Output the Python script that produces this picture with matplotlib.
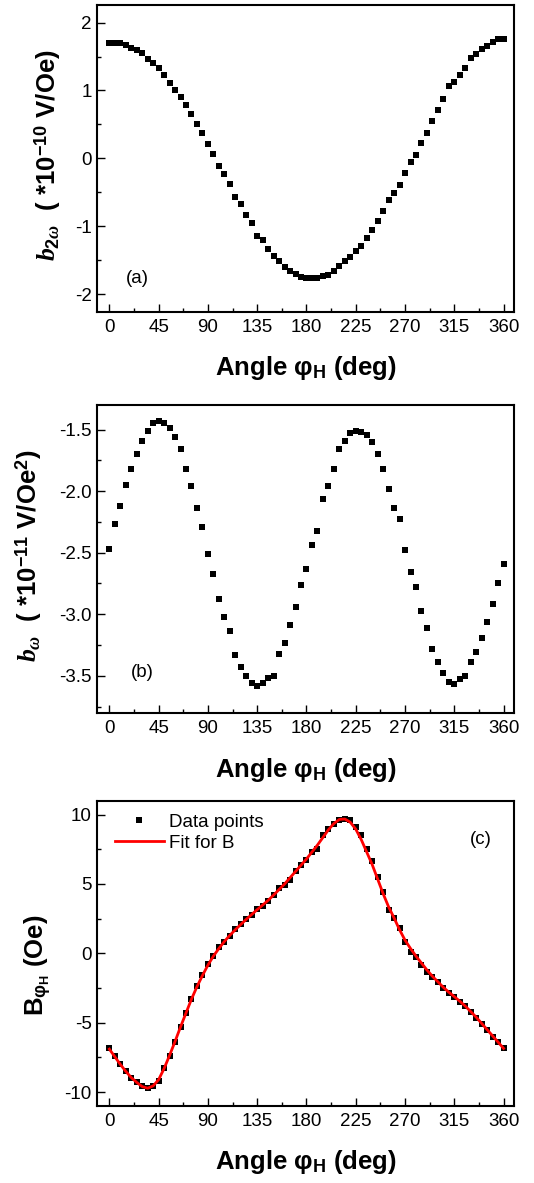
import matplotlib
matplotlib.use("Agg")
import matplotlib.pyplot as plt
from matplotlib.ticker import MultipleLocator

plt.rcParams['font.family'] = ['Liberation Sans', 'DejaVu Sans']
plt.rcParams['axes.unicode_minus'] = False
plt.rcParams['mathtext.fontset'] = 'custom'
plt.rcParams['mathtext.rm'] = 'Liberation Sans:bold'
plt.rcParams['mathtext.bf'] = 'Liberation Sans:bold'
plt.rcParams['mathtext.it'] = 'Liberation Serif:italic:bold'

# ---------------- data ----------------
angles = list(range(0, 361, 5))

b2w = [1.70, 1.70, 1.70, 1.67, 1.63, 1.59, 1.55, 1.47, 1.40, 1.33,
       1.23, 1.11, 1.01, 0.91, 0.79, 0.66, 0.50, 0.38, 0.21, 0.07,
       -0.11, -0.23, -0.38, -0.57, -0.67, -0.84, -0.96, -1.14, -1.21, -1.33,
       -1.44, -1.52, -1.60, -1.66, -1.71, -1.75, -1.77, -1.77, -1.76, -1.74,
       -1.72, -1.66, -1.58, -1.51, -1.45, -1.36, -1.29, -1.17, -1.06, -0.92,
       -0.78, -0.61, -0.51, -0.39, -0.21, -0.05, 0.05, 0.23, 0.37, 0.55,
       0.71, 0.87, 1.07, 1.13, 1.23, 1.33, 1.48, 1.54, 1.61, 1.66,
       1.71, 1.76, 1.76]

bw = [-2.47, -2.27, -2.12, -1.95, -1.82, -1.70, -1.59, -1.51, -1.45, -1.43,
      -1.45, -1.49, -1.56, -1.66, -1.82, -1.96, -2.14, -2.29, -2.51, -2.67,
      -2.88, -3.02, -3.14, -3.33, -3.43, -3.50, -3.56, -3.58, -3.56, -3.52,
      -3.50, -3.32, -3.23, -3.09, -2.94, -2.76, -2.63, -2.44, -2.32, -2.06,
      -1.96, -1.82, -1.66, -1.59, -1.53, -1.51, -1.52, -1.54, -1.60, -1.70,
      -1.82, -1.98, -2.14, -2.23, -2.48, -2.66, -2.78, -2.97, -3.11, -3.28,
      -3.39, -3.48, -3.55, -3.57, -3.53, -3.50, -3.39, -3.31, -3.19, -3.06,
      -2.92, -2.75, -2.59]

B_data = [-6.83, -7.39, -7.96, -8.51, -8.95, -9.30, -9.59, -9.71, -9.54, -9.23,
          -8.27, -7.39, -6.36, -5.28, -4.32, -3.31, -2.33, -1.56, -0.79, -0.17,
          0.43, 0.84, 1.27, 1.75, 2.09, 2.45, 2.76, 3.17, 3.41, 3.79,
          4.20, 4.68, 4.96, 5.32, 5.92, 6.36, 6.76, 7.31, 7.55, 8.51,
          8.99, 9.35, 9.64, 9.71, 9.59, 9.11, 8.51, 7.55, 6.67, 5.52,
          4.44, 3.12, 2.52, 1.85, 0.79, 0.12, -0.24, -0.84, -1.32, -1.68,
          -2.09, -2.52, -2.88, -3.12, -3.48, -3.79, -4.25, -4.65, -5.10, -5.55,
          -6.00, -6.40, -6.80]

B_fit = [-6.90, -7.45, -8.00, -8.50, -8.95, -9.30, -9.60, -9.72, -9.55, -9.10,
         -8.30, -7.35, -6.35, -5.30, -4.30, -3.30, -2.40, -1.60, -0.85, -0.20,
         0.35, 0.85, 1.30, 1.70, 2.08, 2.45, 2.80, 3.15, 3.48, 3.82,
         4.20, 4.60, 5.00, 5.45, 5.90, 6.35, 6.80, 7.30, 7.80, 8.35,
         8.90, 9.35, 9.65, 9.68, 9.45, 8.95, 8.20, 7.30, 6.40, 5.35,
         4.30, 3.35, 2.55, 1.70, 0.95, 0.35, -0.20, -0.70, -1.20, -1.65,
         -2.05, -2.45, -2.80, -3.12, -3.45, -3.80, -4.20, -4.60, -5.05, -5.50,
         -5.95, -6.40, -6.85]

xticks = [0, 45, 90, 135, 180, 225, 270, 315, 360]

# ---------------- figure ----------------
W, H = 534, 1183
fig = plt.figure(figsize=(W / 100, H / 100), dpi=100)

def box(l, t, r, b):
    return [l / W, 1 - b / H, (r - l) / W, (b - t) / H]

axa = fig.add_axes(box(97.3, 5, 514, 311.7))
axb = fig.add_axes(box(97.3, 405, 514, 712.7))
axc = fig.add_axes(box(97.3, 800.7, 514, 1106))

LABEL_FS = 18.5
TICK_FS = 13.5

def style(ax, ymaj, ymin, ylim):
    ax.set_xlim(-11, 369.5)
    ax.set_ylim(*ylim)
    ax.set_xticks(xticks)
    ax.xaxis.set_minor_locator(MultipleLocator(22.5))
    ax.yaxis.set_major_locator(MultipleLocator(ymaj))
    ax.yaxis.set_minor_locator(MultipleLocator(ymin))
    ax.tick_params(which='both', direction='in', top=False, right=False,
                   labelsize=TICK_FS, width=1.0)
    ax.tick_params(which='major', length=5.5)
    ax.tick_params(which='minor', length=2.8)
    ax.tick_params(axis='x', which='major', pad=5)
    ax.tick_params(axis='y', which='major', pad=4)
    for s in ax.spines.values():
        s.set_linewidth(1.5)
    ax.set_xlabel('Angle φ$_{\\mathrm{H}}$ (deg)', fontsize=LABEL_FS, fontweight='bold')
    ax.xaxis.set_label_coords(0.5, -0.185)
    ax.xaxis.label.set_va('center')

# panel (a)
axa.plot(angles, b2w, 's', color='black', ms=4.6, mew=0)
style(axa, 1, 0.5, (-2.26, 2.26))
axa.set_yticks([-2, -1, 0, 1, 2])
axa.set_ylabel(r'$\mathit{b}_{\mathit{2\omega}}$  ( *10$^{-10}$ V/Oe)',
               fontsize=LABEL_FS, fontweight='bold')
axa.yaxis.set_label_coords(-0.119, 0.51)
axa.yaxis.label.set_va('center')
axa.text(26, -1.77, '(a)', fontsize=13.5, ha='center', va='center')

# panel (b)
axb.plot(angles, bw, 's', color='black', ms=4.6, mew=0)
style(axb, 0.5, 0.25, (-3.80, -1.30))
axb.set_yticks([-3.5, -3.0, -2.5, -2.0, -1.5])
axb.set_yticklabels(['-3.5', '-3.0', '-2.5', '-2.0', '-1.5'])
axb.set_ylabel(r'$\mathit{b}_{\omega}$  ( *10$^{-11}$ V/Oe$^{2}$)',
               fontsize=LABEL_FS, fontweight='bold')
axb.yaxis.set_label_coords(-0.164, 0.51)
axb.yaxis.label.set_va('center')
axb.text(30.5, -3.47, '(b)', fontsize=13.5, ha='center', va='center')

# panel (c)
axc.plot(angles, B_data, 's', color='black', ms=4.6, mew=0, label='Data points')
axc.plot(angles, B_fit, '-', color='#ff0000', lw=2.0, label='Fit for B')
style(axc, 5, 2.5, (-11, 11))
axc.set_yticks([-10, -5, 0, 5, 10])
axc.set_ylabel('B$_{\\mathrm{φ}_{\\mathrm{H}}}$ (Oe)', fontsize=LABEL_FS, fontweight='bold')
axc.yaxis.set_label_coords(-0.142, 0.46)
axc.yaxis.label.set_va('center')
axc.text(339, 8.22, '(c)', fontsize=13.5, ha='center', va='center')
axc.legend(loc='upper left', bbox_to_anchor=(0.0425, 0.958), frameon=False,
           fontsize=13.5, handlelength=2.6, handletextpad=0.3, labelspacing=0.2,
           borderpad=0, borderaxespad=0)

fig.savefig('out.png', dpi=100)
